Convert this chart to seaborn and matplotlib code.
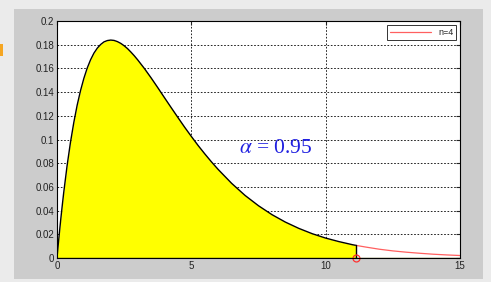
import numpy as np
import pandas as pd
import matplotlib
matplotlib.use("Agg")
import matplotlib.pyplot as plt
import seaborn as sns

# chi-square pdf, n=4
x_vals = [0, 0.025, 0.05, 0.1, 0.15, 0.2, 0.25, 0.375, 0.5, 0.625, 0.75, 0.875, 1,
          1.125, 1.25, 1.375, 1.5, 1.625, 1.75, 1.875, 2, 2.125, 2.25, 2.375, 2.5,
          2.625, 2.75, 2.875, 3, 3.25, 3.5, 3.75, 4, 4.25, 4.5, 4.75, 5, 5.25, 5.5,
          5.75, 6, 6.5, 7, 7.5, 8, 8.5, 9, 9.5, 10, 10.5, 11, 11.14]
y_vals = [0, 0.0062, 0.0122, 0.0238, 0.0348, 0.0452, 0.0552, 0.0778, 0.0974, 0.1143,
          0.1289, 0.1412, 0.1516, 0.1603, 0.1673, 0.1729, 0.1771, 0.1802, 0.1824,
          0.1835, 0.1839, 0.1836, 0.1826, 0.1811, 0.1791, 0.1767, 0.1738, 0.1707,
          0.1673, 0.1600, 0.1521, 0.1438, 0.1353, 0.1269, 0.1186, 0.1104, 0.1026,
          0.0950, 0.0879, 0.0811, 0.0747, 0.0630, 0.0528, 0.0441, 0.0366, 0.0303,
          0.0250, 0.0205, 0.0168, 0.0138, 0.0112, 0.0106]
tail_x = [11.14, 11.5, 12, 12.5, 13, 13.5, 14, 14.5, 15]
tail_y = [0.0106, 0.0092, 0.0074, 0.0060, 0.0049, 0.0040, 0.0032, 0.0026, 0.0021]
crit_x = 11.14
crit_y = 0.0106
legend_label = "n=4"
annot = r"$\alpha$ = 0.95"

sns.set_style("white")
plt.rcParams['font.family'] = ['Liberation Sans', 'DejaVu Sans']
plt.rcParams['mathtext.fontset'] = 'stix'

fig = plt.figure(figsize=(4.91, 2.82), dpi=100, facecolor="#ebebeb")
# inner gray panel
fig.patches.append(plt.Rectangle((14/491, 3/282), (483-14)/491, (279-9)/282,
                                 transform=fig.transFigure, facecolor="#cccccc",
                                 edgecolor="none", zorder=-5))
fig.patches.append(plt.Rectangle((0, 226/282), 3/491, 12/282,
                                 transform=fig.transFigure, facecolor="#f5a623",
                                 edgecolor="none", zorder=-5))
ax = fig.add_axes([57/491, 24/282, (460-57)/491, (258-21)/282])
ax.set_zorder(1)
ax.set_facecolor("white")

main = pd.DataFrame({"x": x_vals, "y": y_vals})
tail = pd.DataFrame({"x": tail_x, "y": tail_y})

ax.fill_between(main["x"], 0, main["y"], color="#ffff00", zorder=2, linewidth=0)
sns.lineplot(data=main, x="x", y="y", color="black", linewidth=1.0, ax=ax,
             sort=False, zorder=3)
sns.lineplot(data=tail, x="x", y="y", color="#ff6060", linewidth=0.9, ax=ax,
             sort=False, zorder=3, label=legend_label)
ax.plot([crit_x, crit_x], [0, crit_y], color="black", linewidth=1.0, zorder=3)
ax.plot([crit_x], [0], marker="o", markersize=5, markerfacecolor="none",
        markeredgecolor="#ff3030", markeredgewidth=0.9, zorder=4, clip_on=False)
ax.axhline(0, color="#555500", linewidth=1.0, zorder=2.5)

ax.text(8.13, 0.0928, annot, color="#2020e0", fontsize=15.5,
        family=["Liberation Serif", "DejaVu Serif"], ha="center", va="center", zorder=5)

ax.set_xlim(0, 15)
ax.set_ylim(0, 0.2)
ax.set_xticks([0, 5, 10, 15])
ax.set_xticklabels(["0", "5", "10", "15"])
yt = [0, 0.02, 0.04, 0.06, 0.08, 0.1, 0.12, 0.14, 0.16, 0.18, 0.2]
ax.set_yticks(yt)
ax.set_yticklabels(["0", "0.02", "0.04", "0.06", "0.08", "0.1", "0.12", "0.14",
                    "0.16", "0.18", "0.2"])
ax.set_xlabel("")
ax.set_ylabel("")
ax.grid(True, color="black", linestyle=(0, (2, 2)), linewidth=0.6, zorder=1)
ax.set_axisbelow(True)
ax.tick_params(axis="both", direction="in", length=3, labelsize=7, colors="#222222",
               top=True, right=True, pad=2)
for s in ax.spines.values():
    s.set_color("black")
    s.set_linewidth(0.8)
    s.set_zorder(6)

leg = ax.legend(loc="upper right", fontsize=6.5, frameon=True, fancybox=False,
                handlelength=4.5, borderpad=0.35, borderaxespad=0.4)
leg.get_frame().set_edgecolor("black")
leg.get_frame().set_linewidth(0.7)

fig.savefig("out.png", dpi=100, facecolor=fig.get_facecolor())
